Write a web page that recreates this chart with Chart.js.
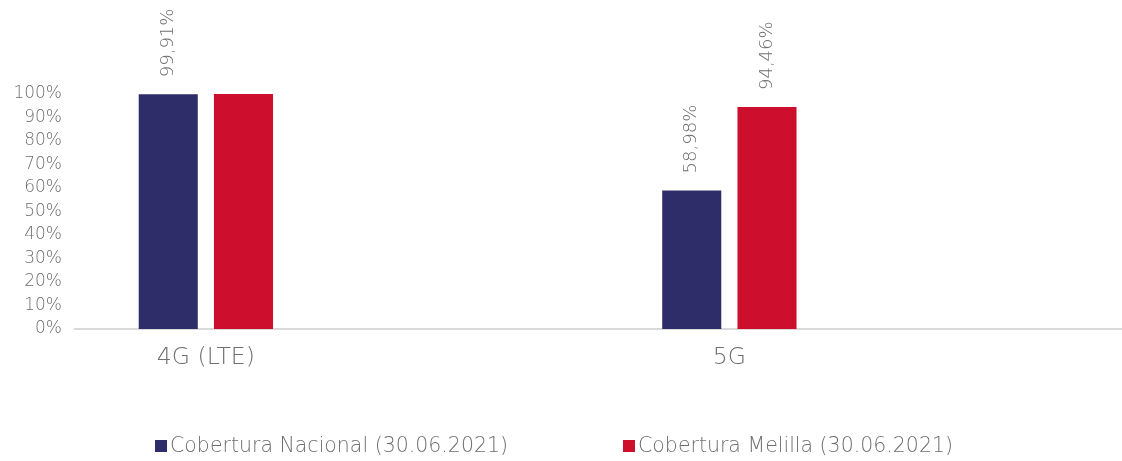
<!DOCTYPE html>
<html>
<head>
<meta charset="utf-8">
<script src="https://cdn.jsdelivr.net/npm/chart.js@4/dist/chart.umd.min.js"></script>
<style>
    html, body { margin: 0; padding: 0; background: #ffffff; }
    #wrap { width: 1122px; height: 461px; }
</style>
</head>
<body>
<div id="wrap"><canvas id="chart"></canvas></div>
<script>
// categories (2nd and 4th are empty slots, as in the original layout)
const categories = ['4G (LTE)', '', '5G', ''];
const seriesNames = ['Cobertura Nacional (30.06.2021)', 'Cobertura Melilla (30.06.2021)'];
const nacional = [99.91, null, 58.98, null];
const melilla = [100, null, 94.46, null];
const nacionalLabels = ['99,91%', '', '58,98%', ''];
const melillaLabels = ['', '', '94,46%', ''];
const yTicks = [0, 10, 20, 30, 40, 50, 60, 70, 80, 90, 100];

const FONT = '"DejaVu Sans"';
const WEIGHT = '200';
const GREY = '#6f6f6f';

// rotated value labels above the bars
const barLabels = {
    id: 'barLabels',
    afterDatasetsDraw(chart) {
        const ctx = chart.ctx;
        ctx.save();
        ctx.font = WEIGHT + ' 18px ' + FONT;
        ctx.fillStyle = GREY;
        ctx.textAlign = 'left';
        ctx.textBaseline = 'middle';
        chart.data.datasets.forEach(function(ds, i) {
            const meta = chart.getDatasetMeta(i);
            meta.data.forEach(function(bar, j) {
                const text = ds.valueLabels[j];
                if (!text) return;
                ctx.save();
                ctx.translate(bar.x, bar.y - 17);
                ctx.rotate(-Math.PI / 2);
                ctx.fillText(text, 0, 0);
                ctx.restore();
            });
        });
        ctx.restore();
    }
};

// legend drawn at the bottom with a small gap between square and text
const bottomLegend = {
    id: 'bottomLegend',
    afterDraw(chart) {
        const ctx = chart.ctx;
        const box = 12, gapText = 3, gapItem = 115;
        ctx.save();
        ctx.font = WEIGHT + ' 20.5px ' + FONT;
        const items = chart.data.datasets.map(function(ds) {
            return { text: ds.label, color: ds.backgroundColor, w: box + gapText + ctx.measureText(ds.label).width };
        });
        const total = items.reduce(function(s, it) { return s + it.w; }, 0) + gapItem * (items.length - 1);
        let x = 554 - total / 2;
        const y = 446;
        items.forEach(function(it) {
            ctx.fillStyle = it.color;
            ctx.fillRect(x, y - 6, box, box);
            ctx.fillStyle = GREY;
            ctx.textAlign = 'left';
            ctx.textBaseline = 'middle';
            ctx.fillText(it.text, x + box + gapText, y + 1);
            x += it.w + gapItem;
        });
        ctx.restore();
    }
};

new Chart(document.getElementById('chart'), {
    type: 'bar',
    data: {
        labels: categories,
        datasets: [{
            label: seriesNames[0],
            data: nacional,
            valueLabels: nacionalLabels,
            backgroundColor: '#2e2d69',
            categoryPercentage: 0.575,
            barPercentage: 0.785
        }, {
            label: seriesNames[1],
            data: melilla,
            valueLabels: melillaLabels,
            backgroundColor: '#ce0e2d',
            categoryPercentage: 0.575,
            barPercentage: 0.785
        }]
    },
    options: {
        responsive: true,
        maintainAspectRatio: false,
        animation: false,
        layout: { padding: { top: 94, right: -11, left: 0, bottom: 0 } },
        plugins: {
            legend: { display: false },
            tooltip: { enabled: false }
        },
        scales: {
            x: {
                grid: { display: false, drawTicks: false },
                border: { display: true, color: '#d9d9d9', width: 2 },
                ticks: {
                    color: GREY,
                    font: { family: FONT, size: 23.5, weight: WEIGHT },
                    padding: 15,
                    maxRotation: 0,
                    autoSkip: false
                },
                afterFit: function(scale) { scale.height = 132; }
            },
            y: {
                min: 0,
                max: 100,
                grid: { display: false, drawTicks: false },
                border: { display: false },
                afterBuildTicks: function(scale) {
                    scale.ticks = yTicks.map(function(v) { return { value: v }; });
                },
                ticks: {
                    color: GREY,
                    font: { family: FONT, size: 17, weight: WEIGHT },
                    padding: 13,
                    callback: function(v) { return v + '%'; }
                },
                afterFit: function(scale) { scale.width = 75; }
            }
        }
    },
    plugins: [barLabels, bottomLegend]
});
</script>
</body>
</html>
